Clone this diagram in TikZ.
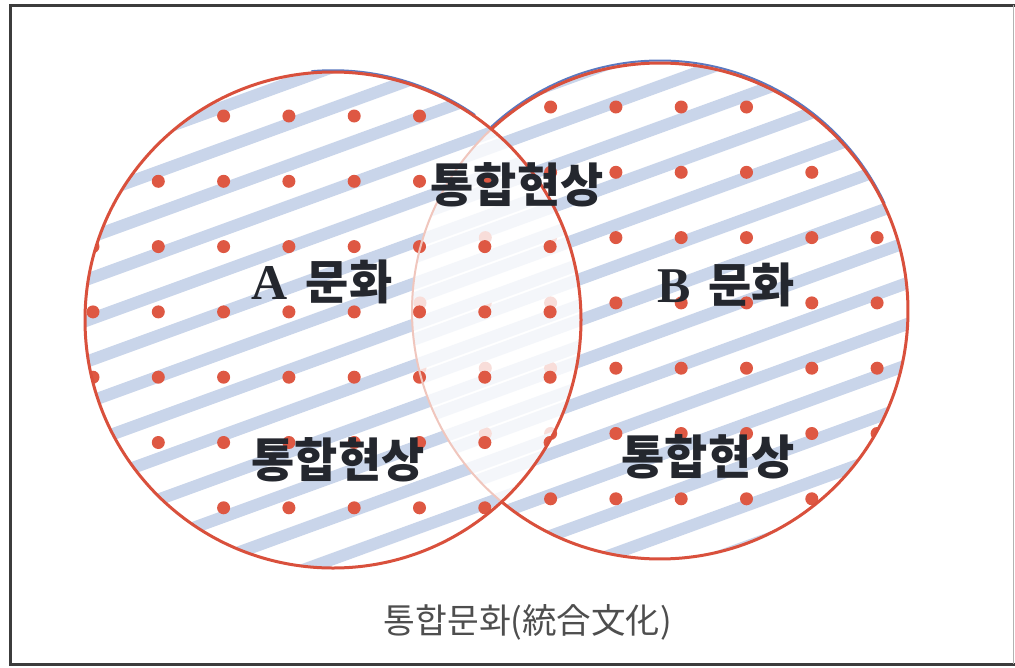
\documentclass[tikz,border=0pt]{standalone}
\usepackage{fontspec}
\newfontfamily\kr{Noto Sans CJK KR}
\newfontfamily\latn{Liberation Serif}
\definecolor{dotred}{HTML}{DE5843}
\definecolor{ringred}{HTML}{D9503C}
\definecolor{bandblue}{HTML}{C9D5EA}
\definecolor{inkc}{HTML}{24272E}
\definecolor{capgray}{HTML}{4E4E4E}
\definecolor{framegray}{HTML}{3C3C3C}
\definecolor{lensarc}{HTML}{F0C6BD}
\definecolor{misblue}{HTML}{5A78C0}
\newcommand\bandsat[3]{%
  \foreach \k in {-8,...,8}{%
    \draw[bandline] (#1-338,#2+#3+41*\k+123) -- (#1+338,#2+#3+41*\k-123);}}
\newcommand\dotsat[2]{%
  \foreach \i in {0,...,7}{\foreach \j in {0,...,6}{%
    \fill[dotred] (#1-240+65.3*\i,#2-204+65.3*\j) circle (6.5);}}}
\begin{document}
\begin{tikzpicture}[x=1pt,y=-1pt,
  bandline/.style={draw=bandblue,line width=12pt},
  ring/.style={draw=ringred,line width=3pt},
  lbl/.style={font=\kr\bfseries\fontsize{47}{52}\selectfont,text=inkc,inner sep=0pt},
  caption/.style={font=\kr\fontsize{34.5}{40}\selectfont,text=capgray,inner sep=0pt}]
\useasboundingbox (0,0) rectangle (1015,667);
\fill[white] (0,0) rectangle (1015,667);
% frame
\draw[framegray,line width=3pt] (1015,5.5) -- (10.5,5.5) -- (10.5,664) -- (1015,664);
\draw[gray!60,line width=1pt] (1013,5) -- (1013,664);
\coordinate (LC) at (333,320);
\coordinate (RC) at (660,311);
% right circle content
\begin{scope}
  \clip (660,311) circle (248);
  \bandsat{660}{311}{21}
  \dotsat{660}{311}
\end{scope}
% left circle content
\begin{scope}
  \clip (333,320) circle (248);
  \bandsat{333}{320}{-7}
  \dotsat{333}{320}
\end{scope}
% lens fade
\begin{scope}
  \clip (333,320) circle (248);
  \fill[white,opacity=.8] (660,311) circle (248);
\end{scope}
% left dots in lens at full strength
\begin{scope}
  \clip (333,320) circle (248);
  \clip (660,311) circle (248);
  \dotsat{333}{320}
\end{scope}
% misregistration blue arcs
\draw[misblue,line width=2pt] (RC) ++(0,-2.5) ++(-133:248) arc[start angle=-133,end angle=-25,radius=248];
\draw[misblue,line width=1.5pt] (LC) ++(0,-2) ++(-95:248) arc[start angle=-95,end angle=-55,radius=248];
% right circle outline
\draw[ring] (RC) ++(-132.8:248) arc[start angle=-132.8,end angle=129.7,radius=248];
\draw[lensarc,line width=2pt] (RC) ++(129.7:248) arc[start angle=129.7,end angle=227.2,radius=248];
% left circle outline
\draw[ring] (LC) circle (248);
% labels
\node[lbl] (top) at (517,185) {통합현상};
\node[lbl] (acult) at (322,282) {{\latn\bfseries\fontsize{50}{52}\selectfont A}\hspace{18pt}문화};
\node[lbl] (bcult) at (726,285) {{\latn\bfseries\fontsize{50}{52}\selectfont B}\hspace{18pt}문화};
\node[lbl] (lint) at (338,460) {통합현상};
\node[lbl] (rint) at (708,457) {통합현상};
\node[caption] (cap) at (528,622) {통합문화(統合文化)};
\end{tikzpicture}
\end{document}
